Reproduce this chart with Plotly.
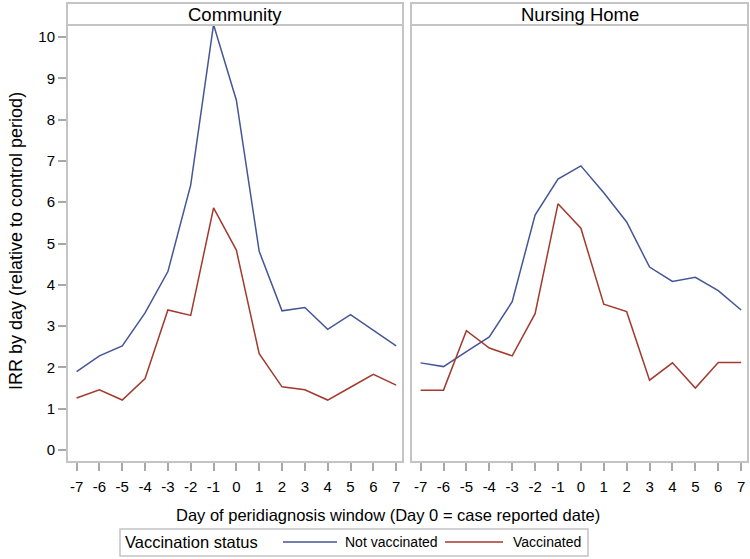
import plotly.graph_objects as go

days = [-7, -6, -5, -4, -3, -2, -1, 0, 1, 2, 3, 4, 5, 6, 7]
panels = ["Community", "Nursing Home"]
community_not_vacc = [1.90, 2.28, 2.52, 3.32, 4.32, 6.42, 10.30, 8.47, 4.81, 3.37, 3.45, 2.92, 3.28, 2.90, 2.52]
community_vacc = [1.26, 1.46, 1.21, 1.73, 3.39, 3.26, 5.86, 4.84, 2.33, 1.53, 1.46, 1.21, 1.52, 1.83, 1.57]
nursing_not_vacc = [2.11, 2.02, 2.38, 2.74, 3.59, 5.69, 6.56, 6.88, 6.23, 5.52, 4.43, 4.08, 4.18, 3.86, 3.39]
nursing_vacc = [1.45, 1.45, 2.89, 2.47, 2.28, 3.30, 5.96, 5.37, 3.53, 3.35, 1.69, 2.11, 1.50, 2.12, 2.12]
y_ticks = list(range(0, 11))
series_names = ["Not vaccinated", "Vaccinated"]
legend_title = "Vaccination status"
colors = ["#445694", "#A23A2E"]

W, H = 750, 559
def px(x):
    return x / W
def py(y):
    return (H - y) / H

FONT = "Liberation Sans, Arial, sans-serif"
GRID = "#C4C4C4"

fig = go.Figure()
data = [(community_not_vacc, community_vacc), (nursing_not_vacc, nursing_vacc)]
for i, (nv, v) in enumerate(data):
    xa = "x" if i == 0 else "x2"
    ya = "y" if i == 0 else "y2"
    fig.add_trace(go.Scatter(x=days, y=nv, mode="lines", name=series_names[0],
                             line=dict(color=colors[0], width=1.5), xaxis=xa, yaxis=ya,
                             showlegend=False))
    fig.add_trace(go.Scatter(x=days, y=v, mode="lines", name=series_names[1],
                             line=dict(color=colors[1], width=1.5), xaxis=xa, yaxis=ya,
                             showlegend=False))

left = [67, 411]
right = [403, 748]
top_hdr, top_plot, bottom_plot = 3, 25, 462

xcommon = dict(range=[-7.42, 7.3], tickmode="array", tickvals=days,
               ticktext=[str(d) for d in days], ticks="outside", ticklen=8, tickwidth=1.5,
               tickcolor="#A8A8A8", showgrid=False, zeroline=False, showline=False,
               ticklabelstandoff=3,
               tickfont=dict(family=FONT, size=15, color="#000"), fixedrange=True)
ycommon = dict(range=[-0.29, 10.29], showgrid=False, zeroline=False, showline=False,
               tickmode="array", tickvals=y_ticks, ticklen=8,
               tickwidth=1.5, tickcolor="#A8A8A8",
               tickfont=dict(family=FONT, size=15, color="#000"), fixedrange=True)

fig.update_layout(
    width=W, height=H, margin=dict(l=0, r=0, t=0, b=0),
    paper_bgcolor="white", plot_bgcolor="white",
    xaxis=dict(domain=[px(left[0]), px(right[0])], anchor="y", **xcommon),
    xaxis2=dict(domain=[px(left[1]), px(right[1])], anchor="y2", **xcommon),
    yaxis=dict(domain=[py(bottom_plot), py(top_plot)], anchor="x", ticks="outside", **ycommon),
    yaxis2=dict(domain=[py(bottom_plot), py(top_plot)], anchor="x2", showticklabels=False,
                ticks="", **ycommon),
    showlegend=False,
)

shapes = []
annotations = []
for i in range(2):
    shapes.append(dict(type="rect", xref="paper", yref="paper",
                       x0=px(left[i]), x1=px(right[i]), y0=py(bottom_plot), y1=py(top_plot),
                       line=dict(color=GRID, width=2), layer="above"))
    shapes.append(dict(type="rect", xref="paper", yref="paper",
                       x0=px(left[i]), x1=px(right[i]), y0=py(top_plot), y1=py(top_hdr),
                       line=dict(color=GRID, width=2), fillcolor="white", layer="above"))
    annotations.append(dict(text=panels[i], xref="paper", yref="paper",
                            x=px((left[i] + right[i]) / 2), y=py((top_hdr + top_plot) / 2 + 1),
                            xanchor="center", yanchor="middle", showarrow=False,
                            font=dict(family=FONT, size=18.5, color="#000")))

annotations.append(dict(text="IRR by day (relative to control period)", xref="paper", yref="paper",
                        x=px(16), y=py(241), textangle=-90, xanchor="center", yanchor="middle",
                        showarrow=False, font=dict(family=FONT, size=18, color="#000")))
annotations.append(dict(text="Day of peridiagnosis window (Day 0 = case reported date)",
                        xref="paper", yref="paper", x=px(388), y=py(515),
                        xanchor="center", yanchor="middle", showarrow=False,
                        font=dict(family=FONT, size=16.5, color="#000")))

# Legend box (drawn manually)
leg_y = 542
shapes.append(dict(type="rect", xref="paper", yref="paper",
                   x0=px(120), x1=px(588), y0=py(556), y1=py(529),
                   line=dict(color=GRID, width=1.5), fillcolor="white"))
annotations.append(dict(text=legend_title, xref="paper", yref="paper", x=px(123), y=py(leg_y),
                        xanchor="left", yanchor="middle", showarrow=False,
                        font=dict(family=FONT, size=16.5, color="#000")))
key_pos = [(283, 337, 343), (445, 503, 511)]
for (x0, x1, tx), name, col in zip(key_pos, series_names, colors):
    shapes.append(dict(type="line", xref="paper", yref="paper", x0=px(x0), x1=px(x1),
                       y0=py(leg_y), y1=py(leg_y), line=dict(color=col, width=1.5)))
    annotations.append(dict(text=name, xref="paper", yref="paper", x=px(tx), y=py(leg_y),
                            xanchor="left", yanchor="middle", showarrow=False,
                            font=dict(family=FONT, size=14, color="#000")))

fig.update_layout(shapes=shapes, annotations=annotations)
fig.write_html("out.html", config={"displayModeBar": False},
               post_script="document.body.style.margin='0px';")
